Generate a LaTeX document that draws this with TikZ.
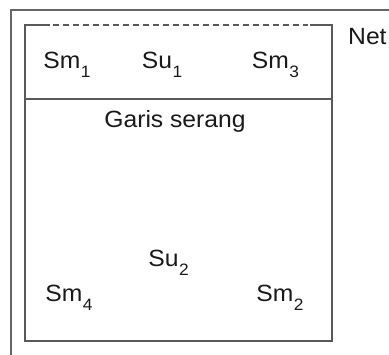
\documentclass[tikz,border=0pt]{standalone}
\usepackage{fontspec}
\setmainfont{Liberation Sans}
\newcommand\subsc[1]{{\fontsize{16.5}{16.5}\selectfont\kern0.5pt\raisebox{-9pt}{#1}}}
\begin{document}
\begin{tikzpicture}[x=1pt,y=-1pt,
  lbl/.style={inner sep=0pt, anchor=base, font=\fontsize{23.5}{23.5}\selectfont, text=black!90, xscale=1.05, transform shape},
  frame/.style={draw=black!60, line width=1.4pt},
  inner/.style={draw=black!65, line width=1.5pt}]
\useasboundingbox (0,0) rectangle (389,355);
% outer frame
\draw[frame] (11,355) -- (11,10) -- (389,10);
% inner box
\draw[inner] (50,25) -- (25,25) -- (25,341) -- (332,341) -- (332,25) -- (310,25);
\draw[inner, dash pattern=on 6pt off 4pt] (53,25) -- (308,25);
\draw[inner] (25,99) -- (332,99);
% labels
\node[lbl] (sm1) at (67,68.5) {Sm\subsc{1}};
\node[lbl] (su1) at (162,68.5) {Su\subsc{1}};
\node[lbl] (sm3) at (275.5,68.5) {Sm\subsc{3}};
\node[lbl] (garis) at (175,128) {Garis serang};
\node[lbl] (su2) at (168.5,267) {Su\subsc{2}};
\node[lbl] (sm4) at (69,302) {Sm\subsc{4}};
\node[lbl] (sm2) at (280,302) {Sm\subsc{2}};
\node[lbl, anchor=base west] (net) at (348,45) {Net};
\end{tikzpicture}
\end{document}
